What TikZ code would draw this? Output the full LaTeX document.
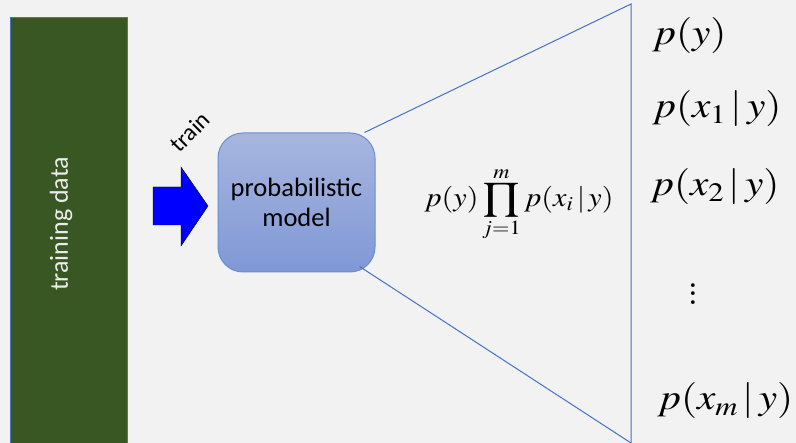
\documentclass[tikz,border=0pt]{standalone}
\usepackage{mathptmx}
\usepackage[no-math]{fontspec}
\newfontfamily\calibri{Carlito}
\definecolor{bgcol}{HTML}{F2F2F2}
\definecolor{datagreen}{HTML}{385723}
\definecolor{linecol}{HTML}{4472C4}
\definecolor{boxtop}{HTML}{A8B6DF}
\definecolor{boxbot}{HTML}{7F98D6}
\tikzset{
    databar/.style = {draw = linecol, fill = datagreen,
        minimum width = 117, minimum height = 428, inner sep = 0},
    datatext/.style = {text = bgcol!95!gray, rotate = 90,
        font = \calibri\fontsize{26}{30}\selectfont},
    modelbox/.style = {draw = linecol!80!white, line width = 1pt, rounded corners = 25pt,
        top color = boxtop, bottom color = boxbot,
        minimum width = 157, minimum height = 139, align = center,
        font = \calibri\fontsize{26.5}{30}\selectfont},
    term/.style = {anchor = west, inner sep = 0, xscale = 1.15, transform shape,
        font = \fontsize{36}{40}\selectfont}
}
\begin{document}
\begin{tikzpicture}[x=1pt,y=-1pt]
    \fill[bgcol] (0,0) rectangle (796,443);
    \useasboundingbox (0,0) rectangle (796,443);
    \node[databar] (data) at (68.5,231) {};
    \node[datatext] (datalabel) at (61,224) {training data};
    \node[modelbox] (model) at (296.5,202.5) {probabilistic\\model};
    % block arrow
    \filldraw[
        fill = blue,
        draw = black
    ]
    (153,187) -- (181,187) -- (181,167) -- (208,206) -- (181,246) -- (181,225) -- (153,225) -- cycle;
    \node[rotate = 45, font = \calibri\fontsize{24}{28}\selectfont] (train) at (190,132) {train};
    % fan out
    \coordinate (top) at (631,4);
    \coordinate (bot) at (631,443);
    \draw[linecol, line width = 1pt] ([xshift=-11pt]model.north east) -- (top) -- (bot);
    \draw[linecol, line width = 1pt] ([xshift=-16pt,yshift=6pt]model.south east) -- (bot);
    \node[xscale = 1.12, transform shape, font = \fontsize{27}{30}\selectfont] (joint) at (519,204) {$p(y)\displaystyle\prod_{j=1}^{m}p(x_i\,|\,y)$};
    \node[term] (py) at (652,36) {$p(y)$};
    \node[term] (px1) at (652,109) {$p(x_1\,|\,y)$};
    \node[term] (px2) at (650,187) {$p(x_2\,|\,y)$};
    \node[align = center, inner sep = 0, font = \bfseries\fontsize{26}{8.5}\selectfont] (dots) at (693,294) {.\\.\\.};
    \node[term] (pxm) at (657,401) {$p(x_m\,|\,y)$};
\end{tikzpicture}
\end{document}
